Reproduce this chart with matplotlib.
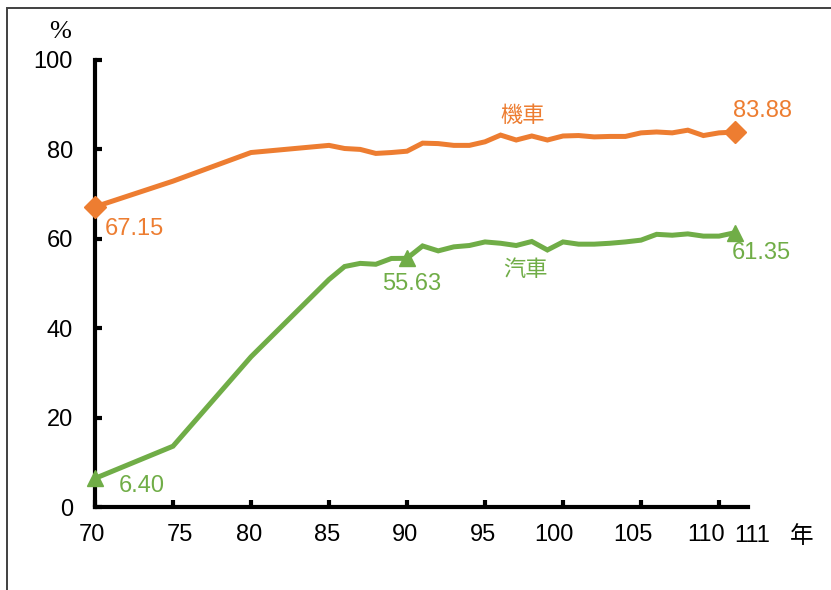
import matplotlib
matplotlib.use("Agg")
import matplotlib.pyplot as plt
from matplotlib.patches import Rectangle
from matplotlib.transforms import ScaledTranslation

# 機車 / 汽車 ownership share (%), by ROC year
years = [70, 75, 80, 85, 86, 87, 88, 89, 90, 91, 92, 93, 94, 95, 96, 97, 98, 99,
         100, 101, 102, 103, 104, 105, 106, 107, 108, 109, 110, 111]
motorcycle = [67.15, 72.9, 79.3, 80.9, 80.2, 80.0, 79.1, 79.3, 79.6, 81.4, 81.3,
              80.9, 80.9, 81.7, 83.2, 82.1, 83.0, 82.1, 83.0, 83.1, 82.8, 82.9,
              82.9, 83.7, 83.9, 83.7, 84.3, 83.1, 83.7, 83.88]
car = [6.40, 13.6, 33.6, 50.9, 53.8, 54.5, 54.3, 55.6, 55.63, 58.4, 57.3, 58.2,
       58.5, 59.3, 59.0, 58.5, 59.4, 57.5, 59.3, 58.8, 58.8, 59.0, 59.3, 59.7,
       61.0, 60.8, 61.1, 60.6, 60.6, 61.35]

x_ticks = [70, 75, 80, 85, 90, 95, 100, 105, 110]
y_ticks = [0, 20, 40, 60, 80, 100]

moto_marked_years = [70, 111]
car_marked_years = [70, 90, 111]

ORANGE = "#ED7D31"
GREEN = "#70AD47"

plt.rcParams["font.family"] = ["Liberation Sans", "Noto Sans CJK TC", "DejaVu Sans"]
CJK = ["Noto Sans CJK TC", "DejaVu Sans"]

fig = plt.figure(figsize=(8.31, 5.90), dpi=100)
ax = fig.add_axes([95 / 831, 83 / 590, 653 / 831, 447 / 590])

ax.plot(years, motorcycle, color=ORANGE, lw=3.6, solid_joinstyle="miter", zorder=3)
ax.plot(years, car, color=GREEN, lw=3.6, solid_joinstyle="miter", zorder=3)

mi = [years.index(y) for y in moto_marked_years]
ax.plot([years[i] for i in mi], [motorcycle[i] for i in mi], linestyle="none",
        marker="D", markersize=11.5, color=ORANGE, zorder=4, clip_on=False)
ci = [years.index(y) for y in car_marked_years]
ax.plot([years[i] for i in ci], [car[i] for i in ci], linestyle="none",
        marker="^", markersize=12, color=GREEN, zorder=4, clip_on=False)

ax.set_xlim(70, 70 + 653 / 15.6)
ax.set_ylim(0, 100)

for side in ("top", "right"):
    ax.spines[side].set_visible(False)
for side in ("left", "bottom"):
    ax.spines[side].set_linewidth(3.0)
    ax.spines[side].set_color("black")

ax.set_xticks(x_ticks)
ax.set_xticklabels([str(v) for v in x_ticks])
ax.set_yticks(y_ticks)
ax.set_yticklabels([str(v) for v in y_ticks])
ax.tick_params(axis="both", direction="in", length=5, width=3, labelsize=17,
               colors="black")
ax.tick_params(axis="y", pad=16)
ax.tick_params(axis="x", pad=12)

# small horizontal nudges of the category labels (pixels)
nudge_px = {70: -3, 75: 7, 80: -2, 85: -2, 90: -2, 95: -2, 100: -9, 105: -8, 110: -13}
for lab, v in zip(ax.get_xticklabels(), x_ticks):
    lab.set_transform(lab.get_transform() +
                      ScaledTranslation(nudge_px[v] / 100, 0, fig.dpi_scale_trans))

xt = ax.get_xaxis_transform()
ax.text(112.15, -0.04, "111", ha="center", va="top", transform=xt,
        fontsize=17, clip_on=False)
ax.text(115.3, -0.04, "年", ha="center", va="top", transform=xt,
        fontsize=17, family=CJK, clip_on=False)
fig.text(60 / 831, 1 - 32 / 590, "%", ha="center", va="center",
         fontsize=19, family=["Liberation Serif", "DejaVu Serif"])

# value labels
ax.text(70.64, motorcycle[0] - 4.9, f"{motorcycle[0]:.2f}", color=ORANGE,
        ha="left", va="center", fontsize=17)
ax.text(112.8, motorcycle[-1] + 4.6, f"{motorcycle[-1]:.2f}", color=ORANGE,
        ha="center", va="center", fontsize=17, clip_on=False)
ax.text(71.55, car[0] - 1.6, f"{car[0]:.2f}", color=GREEN,
        ha="left", va="center", fontsize=17)
ax.text(90.3, car[years.index(90)] - 5.7, f"{car[years.index(90)]:.2f}", color=GREEN,
        ha="center", va="center", fontsize=17)
ax.text(112.7, car[-1] - 4.6, f"{car[-1]:.2f}", color=GREEN,
        ha="center", va="center", fontsize=17, clip_on=False)

# series names
ax.text(97.4, 87.5, "機車", color=ORANGE, ha="center", va="center",
        fontsize=16, family=CJK)
ax.text(97.6, 53.2, "汽車", color=GREEN, ha="center", va="center",
        fontsize=16, family=CJK)

# outer frame
fig.patches.append(Rectangle((7 / 831, -0.05), 1.1, 1.05 - 8 / 590,
                             transform=fig.transFigure, fill=False,
                             edgecolor="#404040", lw=1.4))

fig.savefig("out.png", dpi=100)
